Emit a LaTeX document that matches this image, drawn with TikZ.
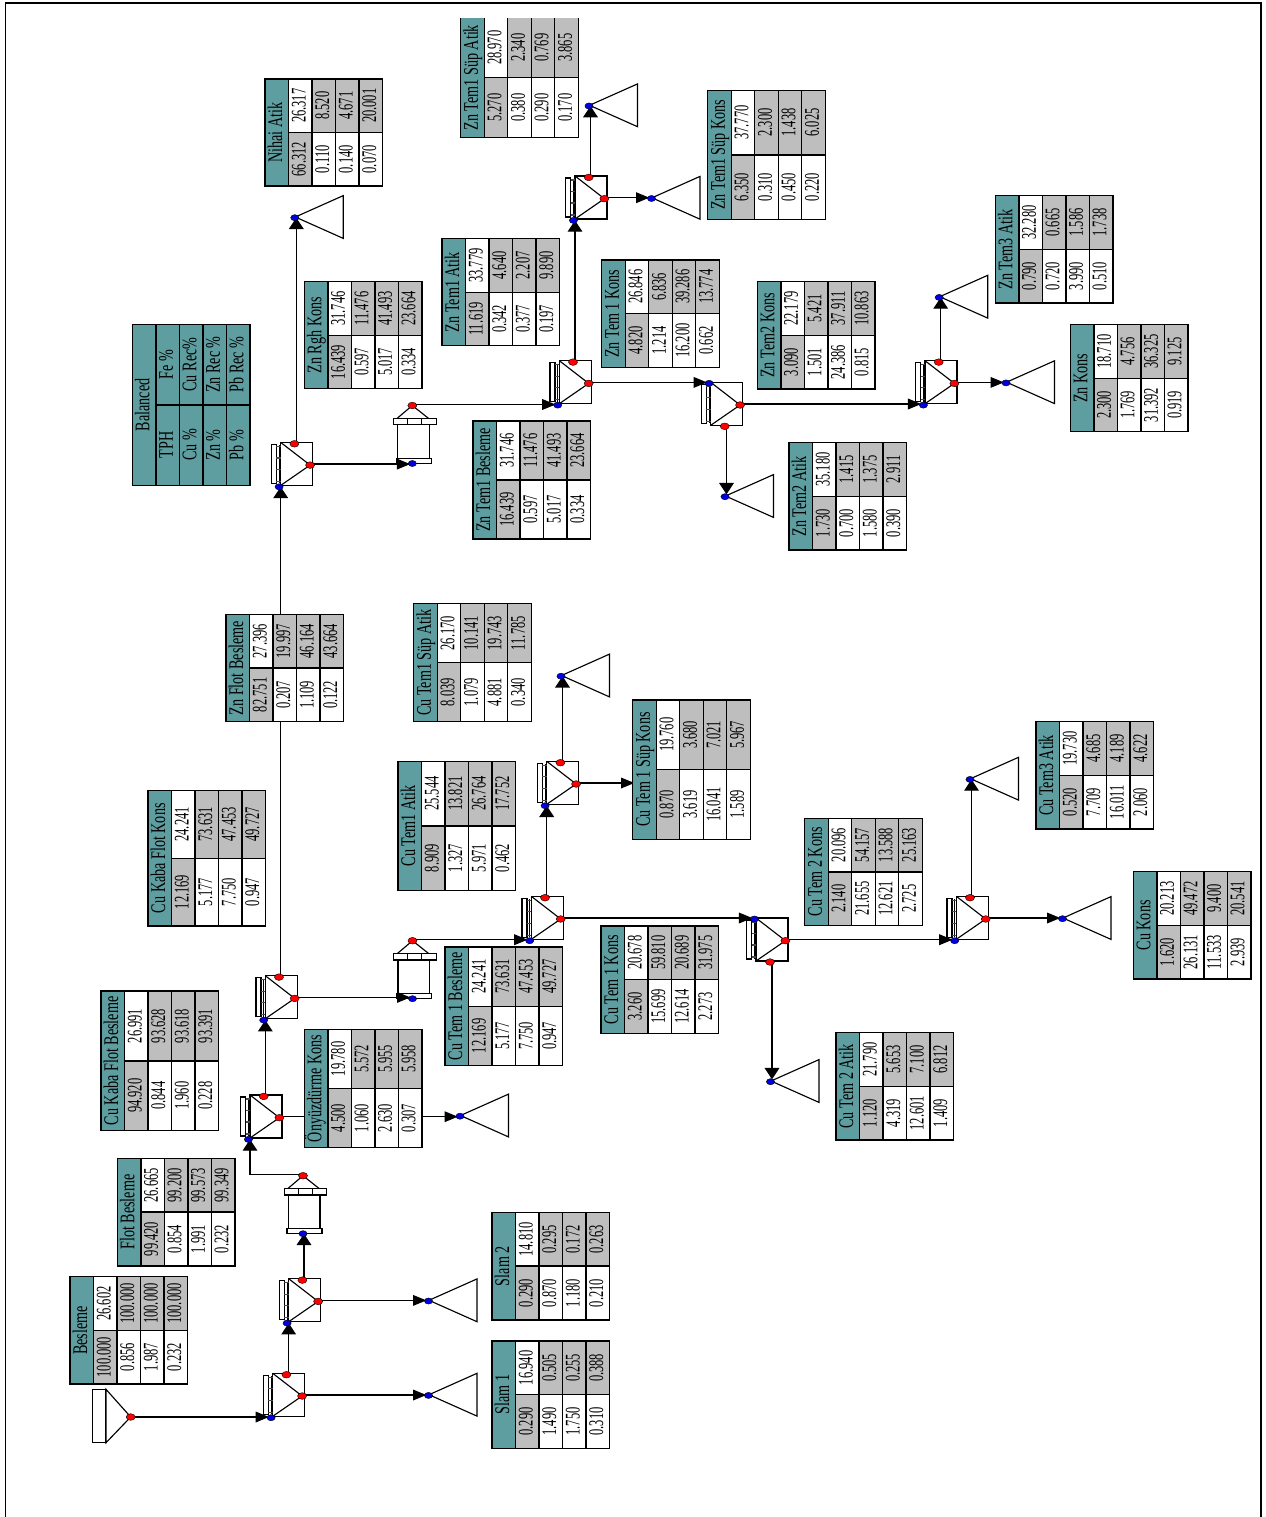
\documentclass[tikz,border=0pt]{standalone}
\usepackage{fontspec}
\usetikzlibrary{arrows.meta,shapes.geometric}
\newfontfamily\tblfont[FakeStretch=0.6]{Liberation Serif}
\newfontfamily\lblfont[FakeStretch=0.68]{Liberation Serif}
\definecolor{tteal}{HTML}{5F9EA0}
\definecolor{tgray}{HTML}{BEBEBE}
\definecolor{dotblue}{HTML}{0000E0}
\pgfdeclarelayer{sym}\pgfdeclarelayer{conn}\pgfdeclarelayer{tab}
\pgfsetlayers{sym,conn,main,tab}
\tikzset{
  symline/.style={draw=black,line width=.85pt,fill=white},
  plainline/.style={draw=black,line width=.85pt},
  reddot/.style={ellipse,draw=black,line width=.3pt,fill=red,minimum width=6.8pt,minimum height=5pt,inner sep=0pt,outer sep=0pt},
  bluedot/.style={ellipse,draw=black,line width=.3pt,fill=dotblue,minimum width=6.2pt,minimum height=4.6pt,inner sep=0pt,outer sep=0pt},
  flowline/.style={draw=black,line width=.95pt},
  hflow/.style={flowline,-{Triangle[length=10pt,width=8pt]},shorten >=1.6pt},
  vflow/.style={flowline,-{Triangle[length=8.5pt,width=11pt]}},
  dflow/.style={flowline,-{Triangle[length=8.5pt,width=11pt]},shorten >=1.8pt},
  tcell/.style={draw=black,line width=1.05pt,rotate=90,inner sep=0pt,outer sep=0pt,
    minimum height=17.625pt,text height=12.5pt,text depth=4.5pt,text=black,
    font=\tblfont\fontsize{15.6}{16}\selectfont},
  lblcell/.style={tcell,fill=tteal,font=\lblfont\fontsize{15.6}{16}\selectfont},
}
% flotation cell: body, launder, ports
\newcommand\cellbody[1]{%
  \draw[symline] (0,0) rectangle (32,43);
  \draw[symline] (-9.3,2) rectangle (-4.3,41);
  \draw[plainline] (-1.6,3) -- (-1.6,41);
  \draw[draw=black!70,line width=1pt] (-4.3,4)--(0,4) (-4.3,15.5)--(0,15.5) (-4.3,27)--(0,27) (-4.3,39)--(0,39);
  \draw[plainline] #1;
}
\newcommand\flotcell[3]{%
  \begin{scope}[shift={(#2,#3)}]
    \begin{pgfonlayer}{sym}\cellbody{(0,0) -- (29.4,22.7) -- (0,43)}\end{pgfonlayer}
    \node[bluedot] (#1-in) at (-1.6,44.4) {};
    \node[reddot] (#1-t) at (13.7,1.4) {};
    \node[reddot] (#1-r) at (29.4,22.7) {};
    \coordinate (#1-v) at (0,44.4);
    \coordinate (#1-h) at (-1.6,43.4);
    \coordinate (#1-ro) at (29.4,21.7);
  \end{scope}}
\newcommand\flotcellflip[3]{%
  \begin{scope}[shift={(#2,#3)}]
    \begin{pgfonlayer}{sym}\cellbody{(0,0) -- (29.4,22.7) -- (0,43)}\end{pgfonlayer}
    \node[bluedot] (#1-in) at (-1.6,1) {};
    \node[reddot] (#1-b) at (14,44) {};
    \node[reddot] (#1-r) at (29.4,22.7) {};
    \coordinate (#1-ro) at (29.4,21.7);
  \end{scope}}
% tailing triangle, apex at the left
\newcommand\tailing[3]{%
  \begin{scope}[shift={(#2,#3)}]
    \begin{pgfonlayer}{sym}\draw[symline] (0,0) -- (48,-21.4) -- (48,21.4) -- cycle;\end{pgfonlayer}
    \node[bluedot] (#1) at (-.5,.7) {};
    \coordinate (#1-v) at (1,.7);
  \end{scope}}
% thickener, apex on top
\newcommand\thickener[3]{%
  \begin{scope}[shift={(#2,#3)}]
    \begin{pgfonlayer}{sym}
      \draw[plainline] (-15,12.7) -- (0,0) -- (16,12.7);
      \draw[symline] (-14.5,19.3) rectangle (17,53);
      \draw[symline] (-18.7,12.7) rectangle (23.8,19.3);
      \draw[plainline] (-4.7,12.7) -- (-4.7,19.3) (9.3,12.7) -- (9.3,19.3);
      \draw[symline] (-16,53) rectangle (19,57.6);
    \end{pgfonlayer}
    \node[reddot] (#1-t) at (0,0) {};
    \node[bluedot] (#1-b) at (0,58) {};
    \coordinate (#1-to) at (0,-1);
    \coordinate (#1-v) at (1,58);
  \end{scope}}
% result table: id, left, top, height, label, rows
\newcommand\datatable[6]{%
  \begin{pgfonlayer}{tab}
    \node[lblcell,minimum width=#4*.75pt] (#1-h) at (#2+11.75,#3+#4/2) {#5};
    \foreach \a/\b [count=\i] in {#6}{%
      \ifnum\i=1 \def\fa{tgray}\def\fb{white}\else\def\fa{white}\def\fb{tgray}\fi
      \node[tcell,fill=\fa,minimum width=#4*.375pt] (#1-\i-a) at (#2+11.75+23.5*\i,#3+#4*.75) {\a};
      \node[tcell,fill=\fb,minimum width=#4*.375pt] (#1-\i-b) at (#2+11.75+23.5*\i,#3+#4*.25) {\b};
    }%
  \end{pgfonlayer}}
\newcommand\legendtable[6]{%
  \begin{pgfonlayer}{tab}
    \node[lblcell,minimum width=#4*.75pt] (#1-h) at (#2+11.75,#3+#4/2) {#5};
    \foreach \a/\b [count=\i] in {#6}{%
      \node[lblcell,minimum width=#4*.375pt] (#1-\i-a) at (#2+11.75+23.5*\i,#3+#4*.75) {\a};
      \node[lblcell,minimum width=#4*.375pt] (#1-\i-b) at (#2+11.75+23.5*\i,#3+#4*.25) {\b};
    }%
  \end{pgfonlayer}}
\begin{document}
\begin{tikzpicture}[x=.75pt,y=-.75pt]
\useasboundingbox (0,0) rectangle (1266,1517);
% page frame
\coordinate (frameA) at (5.5,1517);
\coordinate (frameB) at (1261,3);
\coordinate (frameC) at (1261,1517);
\draw[line width=1.2pt,draw=black] (frameA) |- (frameB) -- (frameC);
% feed
\begin{pgfonlayer}{sym}
  \draw[symline] (92.7,1389.3) rectangle (106,1442.7);
  \draw[symline] (106,1389.3) -- (130.7,1417) -- (106,1442.7) -- cycle;
\end{pgfonlayer}
\node[reddot] (feed) at (130.7,1417) {};
% units
\flotcell{c1}{272.7}{1373.3}
\flotcell{c2}{288.7}{1278.7}
\flotcell{c3}{250}{1095}
\flotcell{c4}{265.3}{975.7}
\flotcell{c5}{531.3}{896.3}
\flotcell{c6}{546.7}{761.3}
\flotcellflip{c7}{756}{918}
\flotcell{c8}{956.3}{896.3}
\flotcell{c9}{280.7}{442.4}
\flotcell{c10}{559.3}{360.7}
\flotcellflip{c11}{710.7}{382.3}
\flotcell{c12}{575}{176}
\flotcell{c13}{925}{360.7}
\thickener{th1}{303}{1175.7}
\thickener{th2}{412.5}{940.7}
\thickener{th3}{412.3}{405.5}
\tailing{tSlamA}{429}{1394.7}
\tailing{tSlamB}{429}{1300.3}
\tailing{tOny}{460.5}{1115.5}
\tailing{tCuSA}{561.5}{675.5}
\tailing{tCuSK}{637}{782}
\tailing{tCuTA}{771}{1081}
\tailing{tCuTB}{970.5}{778.7}
\tailing{tCuK}{1063}{918}
\tailing{tNihai}{295.3}{217}
\tailing{tZnSA}{589.5}{105.3}
\tailing{tZnSK}{652}{197.8}
\tailing{tZnTA}{725.5}{496}
\tailing{tZnTB}{939.7}{296.7}
\tailing{tZnK}{1006.5}{382.2}
% connectors
\begin{pgfonlayer}{conn}
\draw[hflow] (feed.center) -- (feed.center -| c1-in.center);
\draw[hflow] (c1-ro) -- (c1-ro -| tSlamA.center);
\draw[vflow] (c2-v |- c1-t.center) -- (c2-v);
\draw[hflow] (c2-ro) -- (c2-ro -| tSlamB.center);
\draw[vflow] (th1-v |- c2-t.center) -- (th1-v);
\draw[vflow] (th1-to) -| (c3-v);
\draw[hflow] (c3-ro) -- (c3-ro -| tOny.center);
\draw[vflow] (c4-v |- c3-t.center) -- (c4-v);
\draw[hflow] (c4-ro) -- (c4-ro -| th2-b.center);
\draw[hflow] (th2-to) -- (th2-to -| c5-in.center);
\draw[vflow] (c6-v |- c5-t.center) -- (c6-v);
\draw[hflow] (c5-ro) -- (c5-ro -| c7-in.center);
\draw[vflow] (tCuSA-v |- c6-t.center) -- (tCuSA-v);
\draw[hflow] (c6-ro) -- (c6-ro -| tCuSK.center);
\draw[hflow] (c7-ro) -- (c7-ro -| c8-in.center);
\draw[dflow] (tCuTA-v |- c7-b.center) -- (tCuTA-v);
\draw[vflow] (tCuTB-v |- c8-t.center) -- (tCuTB-v);
\draw[hflow] (c8-ro) -- (c8-ro -| tCuK.center);
\draw[vflow] (c9-v |- c4-t.center) -- (c9-v);
\draw[vflow] (tNihai-v |- c9-t.center) -- (tNihai-v);
\draw[hflow] (c9-ro) -- (c9-ro -| th3-b.center);
\draw[hflow] (th3-to) -- (th3-to -| c10-in.center);
\draw[vflow] (c12-v |- c10-t.center) -- (c12-v);
\draw[vflow] (tZnSA-v |- c12-t.center) -- (tZnSA-v);
\draw[hflow] (c12-ro) -- (c12-ro -| tZnSK.center);
\draw[hflow] (c10-ro) -- (c10-ro -| c11-in.center);
\draw[hflow] (c11-ro) -- (c11-ro -| c13-in.center);
\draw[dflow] (tZnTA-v |- c11-b.center) -- (tZnTA-v);
\draw[vflow] (tZnTB-v |- c13-t.center) -- (tZnTB-v);
\draw[hflow] (c13-ro) -- (c13-ro -| tZnK.center);
\end{pgfonlayer}
% tables
\legendtable{bal}{132.3}{324.3}{161}{Balanced}{TPH/Fe \%,Cu \%/Cu Rec\%,Zn \%/Zn Rec \%,Pb \%/Pb Rec \%}
\datatable{tbA}{70}{1276.7}{107.3}{Besleme}{100.000/26.602,0.856/100.000,1.987/100.000,0.232/100.000}
\datatable{tbB}{492}{1341}{107.3}{Slam 1}{0.290/16.940,1.490/0.505,1.750/0.255,0.310/0.388}
\datatable{tbC}{492}{1212.5}{107.3}{Slam 2}{0.290/14.810,0.870/0.295,1.180/0.172,0.210/0.263}
\datatable{tbD}{117.3}{1158.5}{107.3}{Flot Besleme}{99.420/26.665,0.854/99.200,1.991/99.573,0.232/99.349}
\datatable{tbE}{101}{991}{139.7}{Cu Kaba Flot Besleme}{94.920/26.991,0.844/93.628,1.960/93.618,0.228/93.391}
\datatable{tbF}{304.3}{1029.3}{118.3}{Önyüzdürme Kons}{4.500/19.780,1.060/5.572,2.630/5.955,0.307/5.958}
\datatable{tbG}{148}{790.6}{135.2}{Cu Kaba Flot Kons}{12.169/24.241,5.177/73.631,7.750/47.453,0.947/49.727}
\datatable{tbH}{445}{947}{118.5}{Cu Tem 1 Besleme}{12.169/24.241,5.177/73.631,7.750/47.453,0.947/49.727}
\datatable{tbI}{601}{926}{107.3}{Cu Tem 1 Kons}{3.260/20.678,15.699/59.810,12.614/20.689,2.273/31.975}
\datatable{tbJ}{398}{761.3}{129}{Cu Tem1 Atik}{8.909/25.544,1.327/13.821,5.971/26.764,0.462/17.752}
\datatable{tbK}{413.7}{603.7}{118}{Cu Tem1 Süp Atik}{8.039/26.170,1.079/10.141,4.881/19.743,0.340/11.785}
\datatable{tbL}{632.7}{700}{139.3}{Cu Tem 1 Süp Kons}{0.870/19.760,3.619/3.680,16.041/7.021,1.589/5.967}
\datatable{tbM}{804.7}{818.3}{107}{Cu Tem 2 Kons}{2.140/20.096,21.655/54.157,12.621/13.588,2.725/25.163}
\datatable{tbN}{836}{1032.7}{107.3}{Cu Tem 2 Atik}{1.120/21.790,4.319/5.653,12.601/7.100,1.409/6.812}
\datatable{tbO}{1036}{721.7}{107.3}{Cu Tem3 Atik}{0.520/19.730,7.709/4.685,16.011/4.189,2.060/4.622}
\datatable{tbP}{1133.3}{871.7}{107.3}{Cu Kons}{1.620/20.213,26.131/49.472,11.533/9.400,2.939/20.541}
\datatable{tbQ}{226}{614.3}{107.4}{Zn Flot Besleme}{82.751/27.396,0.207/19.997,1.109/46.164,0.122/43.664}
\datatable{tbR}{265}{79}{107}{Nihai Atik}{66.312/26.317,0.110/8.520,0.140/4.671,0.070/20.001}
\datatable{tbS}{304.3}{281.7}{107}{Zn Rgh Kons}{16.439/31.746,0.597/11.476,5.017/41.493,0.334/23.664}
\datatable{tbT}{473}{421}{118}{Zn Tem1 Besleme}{16.439/31.746,0.597/11.476,5.017/41.493,0.334/23.664}
\datatable{tbU}{442}{238.7}{107}{Zn Tem1 Atik}{11.619/33.779,0.342/4.640,0.377/2.207,0.197/9.890}
\datatable{tbV}{601.7}{260}{107.3}{Zn Tem 1 Kons}{4.820/26.846,1.214/6.836,16.200/39.286,0.662/13.774}
\datatable{tbW}{460.7}{17.7}{120}{Zn Tem1 Süp Atik}{5.270/28.970,0.380/2.340,0.290/0.769,0.170/3.865}
\datatable{tbX}{707.7}{90.3}{129}{Zn Tem1 Süp Kons}{6.350/37.770,0.310/2.300,0.450/1.438,0.220/6.025}
\datatable{tbY}{757.3}{281.7}{107.3}{Zn Tem2 Kons}{3.090/22.179,1.501/5.421,24.386/37.911,0.815/10.863}
\datatable{tbZ}{789}{442.7}{107.3}{Zn Tem2 Atik}{1.730/35.180,0.700/1.415,1.580/1.375,0.390/2.911}
\datatable{tbAA}{995.3}{195.7}{107.3}{Zn Tem3 Atik}{0.790/32.280,0.720/0.665,3.990/1.586,0.510/1.738}
\datatable{tbAB}{1070.3}{324.7}{107}{Zn Kons}{2.300/18.710,1.769/4.756,31.392/36.325,0.919/9.125}
% the top table is cut off at its upper edge
\begin{pgfonlayer}{tab}
  \fill[white] (459,14) rectangle (580,18.4);
\end{pgfonlayer}
\end{tikzpicture}
\end{document}
